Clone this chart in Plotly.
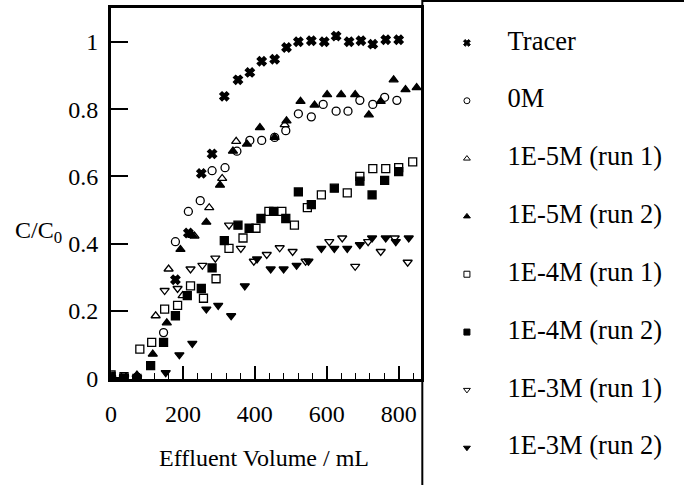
import plotly.graph_objects as go

# ---- data ----
tracer_x = [0, 36, 72, 179, 215, 251, 281, 315, 353, 386, 419, 455, 488, 521, 557, 593, 626, 662, 695, 728, 764, 800]
tracer_y = [0, 0, 0, 0.293, 0.432, 0.609, 0.667, 0.838, 0.887, 0.909, 0.942, 0.948, 0.983, 1.0, 1.003, 1.0, 1.017, 1.0, 1.003, 0.993, 1.006, 1.006]

m0_x = [0, 36, 72, 146, 179, 215, 248, 281, 317, 350, 386, 419, 455, 486, 521, 557, 590, 626, 659, 692, 728, 761, 795]
m0_y = [0, 0.005, 0, 0.136, 0.406, 0.496, 0.528, 0.617, 0.626, 0.675, 0.707, 0.707, 0.716, 0.736, 0.786, 0.777, 0.814, 0.794, 0.794, 0.826, 0.814, 0.835, 0.826]

e5r1_x = [0, 36, 72, 124, 160, 199, 232, 273, 309, 348, 483]
e5r1_y = [0, 0, 0.005, 0.186, 0.325, 0.246, 0.423, 0.507, 0.594, 0.704, 0.754]

e5r2_x = [0, 36, 72, 116, 155, 193, 226, 265, 303, 339, 378, 414, 455, 488, 527, 566, 601, 640, 679, 717, 750, 786, 819, 850]
e5r2_y = [0, 0, 0.01, 0.072, 0.165, 0.383, 0.425, 0.464, 0.574, 0.675, 0.696, 0.745, 0.716, 0.765, 0.823, 0.812, 0.843, 0.843, 0.843, 0.783, 0.823, 0.887, 0.858, 0.864]

e4r1_x = [0, 36, 80, 113, 149, 185, 221, 257, 292, 328, 367, 403, 439, 475, 510, 546, 585, 657, 692, 728, 764, 800, 839]
e4r1_y = [0.01, 0.005, 0.087, 0.107, 0.206, 0.217, 0.275, 0.238, 0.296, 0.386, 0.417, 0.446, 0.496, 0.496, 0.455, 0.507, 0.545, 0.551, 0.600, 0.623, 0.623, 0.626, 0.643]

e4r2_x = [0, 36, 72, 110, 146, 179, 212, 251, 281, 315, 353, 384, 417, 452, 486, 521, 557, 621, 692, 726, 761, 800]
e4r2_y = [0.005, 0, 0, 0.038, 0.107, 0.186, 0.246, 0.267, 0.328, 0.409, 0.455, 0.446, 0.475, 0.496, 0.475, 0.554, 0.516, 0.565, 0.586, 0.545, 0.588, 0.614]

e3r1_x = [0, 36, 72, 149, 185, 221, 254, 290, 328, 361, 397, 433, 469, 505, 541, 607, 643, 679, 715, 750, 789, 825]
e3r1_y = [0, 0.005, 0, 0.261, 0.267, 0.325, 0.336, 0.357, 0.455, 0.386, 0.348, 0.368, 0.388, 0.377, 0.348, 0.406, 0.417, 0.333, 0.406, 0.377, 0.417, 0.345]

e3r2_x = [0, 36, 72, 152, 190, 226, 265, 298, 334, 372, 406, 444, 480, 516, 549, 585, 621, 657, 692, 726, 764, 792, 828]
e3r2_y = [0, 0, 0, 0.017, 0.070, 0.104, 0.206, 0.217, 0.186, 0.275, 0.355, 0.325, 0.325, 0.336, 0.348, 0.386, 0.386, 0.386, 0.397, 0.417, 0.417, 0.406, 0.417]

series_names = ["Tracer", "0M", "1E-5M (run 1)", "1E-5M (run 2)",
                "1E-4M (run 1)", "1E-4M (run 2)", "1E-3M (run 1)", "1E-3M (run 2)"]
series_x = [tracer_x, m0_x, e5r1_x, e5r2_x, e4r1_x, e4r2_x, e3r1_x, e3r2_x]
series_y = [tracer_y, m0_y, e5r1_y, e5r2_y, e4r1_y, e4r2_y, e3r1_y, e3r2_y]
symbols = ["x", "circle-open", "triangle-up-open", "triangle-up",
           "square-open", "square", "triangle-down-open", "triangle-down"]

x_ticks = [0, 200, 400, 600, 800]
y_ticks = [0, 0.2, 0.4, 0.6, 0.8, 1]
y_tick_text = ["0", "0.2", "0.4", "0.6", "0.8", "1"]

FONT = "Liberation Serif"
W, H = 684, 485

fig = go.Figure()
for i, (name, xs, ys, sym) in enumerate(zip(series_names, series_x, series_y, symbols)):
    fig.add_trace(go.Scatter(
        x=xs, y=ys, mode="markers", name=name, showlegend=False,
        marker=dict(symbol=sym, size=8, color="black",
                    line=dict(color="black", width=1.3)),
        xaxis="x", yaxis="y",
    ))

# ---- hand-built legend on its own hidden axes (rows indexed by series order) ----
legend_rows = list(range(len(series_names)))
for i, (name, sym) in enumerate(zip(series_names, symbols)):
    fig.add_trace(go.Scatter(
        x=[45], y=[legend_rows[i]], mode="markers", showlegend=False,
        marker=dict(symbol=sym, size=6, color="black",
                    line=dict(color="black", width=1)),
        xaxis="x2", yaxis="y2", cliponaxis=False, hoverinfo="skip",
    ))
fig.add_trace(go.Scatter(
    x=[86] * len(series_names), y=legend_rows, mode="text", text=series_names,
    textposition="middle right", showlegend=False, cliponaxis=False,
    textfont=dict(family=FONT, size=26.5, color="black"),
    xaxis="x2", yaxis="y2", hoverinfo="skip",
))

fig.update_layout(
    width=W, height=H,
    margin=dict(l=0, r=0, t=0, b=0),
    paper_bgcolor="white", plot_bgcolor="white",
    font=dict(family=FONT, size=24, color="black"),
    showlegend=False,
    xaxis=dict(domain=[106 / W, 419 / W], anchor="y",
               range=[0, 863], tickvals=x_ticks, ticks="inside", ticklen=14,
               tickwidth=1.5, tickcolor="black", showline=True, linewidth=2.5,
               linecolor="black", mirror=True, showgrid=False, zeroline=False,
               ticklabelstandoff=11,
               minor=dict(dtick=40, ticks="inside", ticklen=7, tickwidth=1.2,
                          tickcolor="black", showgrid=False),
               tickfont=dict(family=FONT, size=24, color="black")),
    yaxis=dict(domain=[1 - 389 / H, 1 - 8 / H], anchor="x",
               range=[-0.003, 1.101], tickvals=y_ticks, ticktext=y_tick_text,
               ticks="inside", ticklen=17, tickwidth=2, tickcolor="black",
               showline=True, linewidth=3, linecolor="black", mirror=True,
               showgrid=False, zeroline=False, ticklabelstandoff=5,
               tickfont=dict(family=FONT, size=24, color="black")),
    xaxis2=dict(domain=[420 / W, 1], anchor="y2", range=[0, 264], visible=False,
                fixedrange=True),
    yaxis2=dict(domain=[0, 1], anchor="x2", range=[7.437, -0.742], visible=False,
                fixedrange=True),
    shapes=[dict(type="rect", xref="paper", yref="paper",
                 x0=420 / W, x1=1.05, y0=-0.05, y1=1 - 1 / H,
                 line=dict(color="black", width=2), fillcolor="rgba(0,0,0,0)",
                 layer="above")],
    annotations=[
        dict(text="C/C<sub>0</sub>", xref="paper", yref="paper",
             x=33 / W, y=1 - 238 / H, showarrow=False, xanchor="center", yanchor="middle",
             font=dict(family=FONT, size=24, color="black")),
        dict(text="Effluent Volume / mL", xref="paper", yref="paper",
             x=260 / W, y=1 - 470 / H, showarrow=False, xanchor="center", yanchor="middle",
             font=dict(family=FONT, size=24, color="black")),
    ],
)

fig.write_html("out.html", config={"displayModeBar": False},
               post_script="document.body.style.margin='0';")
